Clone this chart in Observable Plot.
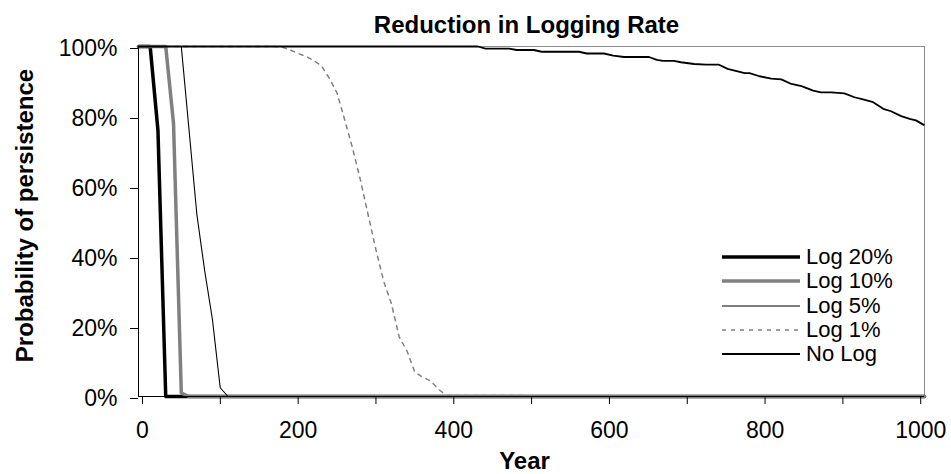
<!DOCTYPE html>
<html>
<head>
<meta charset="utf-8">
<script src="https://cdn.jsdelivr.net/npm/d3@7"></script>
<script src="https://cdn.jsdelivr.net/npm/@observablehq/plot@0.6"></script>
<style>
  html, body { margin: 0; padding: 0; background: #fff; }
  #wrap { position: relative; width: 951px; height: 474px; font-family: "Liberation Sans", Arial, sans-serif; }
  #legend { position: absolute; left: 722px; top: 245px; }
  .row { display: flex; align-items: center; height: 24.3px; font-size: 22px; color: #000; }
  .row svg { margin-right: 6px; }
</style>
</head>
<body>
<div id="wrap"><div id="legend"></div></div>
<script>
// ---- data (years, probability of persistence in %) ----
const log20Years = [0, 15, 25, 35, 1010];
const log20Vals  = [100, 100, 76, 0, 0];

const log10Years = [0, 35, 45, 55, 65, 1010];
const log10Vals  = [100, 100, 78, 1, 0, 0];

const log5Years = [0, 55, 65, 75, 85, 95, 105, 115, 1010];
const log5Vals  = [100, 100, 76, 52, 36, 22, 2.5, 0, 0];

const log1Years = [0, 175, 185, 195, 205, 215, 225, 235, 245, 255, 265, 275, 285, 295, 305, 315, 325, 335, 345, 355, 365, 375, 385, 395, 1010];
const log1Vals  = [100, 100, 99.8, 99, 98, 97.2, 96, 94.5, 91, 86.8, 79, 71, 62, 52, 42, 33, 26.5, 17, 13, 7, 5.5, 4.5, 2.2, 0.3, 0];

const noLogYears = [0, 436, 446, 476, 486, 508, 518, 566, 576, 598, 610, 624, 656, 666, 674, 688, 697, 714, 729, 746, 757, 766, 779, 785, 798, 813, 826, 839, 852, 867, 877, 890, 907, 920, 931, 944, 957, 967, 980, 991, 999, 1009];
const noLogVals  = [100, 100, 99.4, 99.4, 99, 99, 98.5, 98.5, 98, 98, 97.4, 97, 97, 96.2, 95.9, 95.9, 95.5, 95, 94.8, 94.8, 93.6, 93.1, 92.4, 92.4, 91.5, 90.8, 90.6, 89.3, 88.7, 87.4, 86.9, 86.9, 86.6, 85.5, 84.9, 84.1, 82.2, 81.5, 80.1, 79.3, 78.9, 77.6];

const seriesNames = ["Log 20%", "Log 10%", "Log 5%", "Log 1%", "No Log"];
const xTicks = [0, 100, 200, 300, 400, 500, 600, 700, 800, 900, 1000];
const yTicks = [0, 20, 40, 60, 80, 100];
const titleText = "Reduction in Logging Rate";
const xTitle = "Year";
const yTitle = "Probability of persistence";

// ---- styles ----
const styles = {
  "Log 20%": {stroke: "#000000", strokeWidth: 3.5, dash: null},
  "Log 10%": {stroke: "#808080", strokeWidth: 3.5, dash: null},
  "Log 5%":  {stroke: "#000000", strokeWidth: 1.1, dash: null},
  "Log 1%":  {stroke: "#808080", strokeWidth: 1.5, dash: "4,5"},
  "No Log":  {stroke: "#000000", strokeWidth: 1.8, dash: null}
};

const toRows = (ys, vs) => ys.map((y, i) => ({year: y, p: vs[i]}));
const seriesData = {
  "Log 20%": toRows(log20Years, log20Vals),
  "Log 10%": toRows(log10Years, log10Vals),
  "Log 5%": toRows(log5Years, log5Vals),
  "Log 1%": toRows(log1Years, log1Vals),
  "No Log": toRows(noLogYears, noLogVals)
};

const font = "'Liberation Sans', Arial, sans-serif";

const lineMarks = seriesNames.map(name => Plot.line(seriesData[name], {
  x: "year", y: "p",
  stroke: styles[name].stroke,
  strokeWidth: styles[name].strokeWidth,
  strokeDasharray: styles[name].dash || undefined,
  strokeLinejoin: "round"
}));

const chart = Plot.plot({
  width: 951,
  height: 474,
  marginTop: 46,
  marginBottom: 78,
  marginLeft: 138,
  marginRight: 27,
  style: {fontFamily: font, color: "#000", background: "#fff", overflow: "visible"},
  x: {domain: [0, 1010]},
  y: {domain: [0, 100]},
  marks: [
    Plot.frame({stroke: "#8c8c8c", strokeWidth: 1}),
    ...lineMarks,
    Plot.ruleX([0], {stroke: "#000", strokeWidth: 1}),
    Plot.ruleY([0], {stroke: "#000", strokeWidth: 1}),
    Plot.axisX({ticks: xTicks, tickFormat: d => d % 200 === 0 ? String(d) : "", tickSize: 8, tickPadding: 17, fontSize: 23, dx: 4, label: null, stroke: "#000"}),
    Plot.axisY({ticks: yTicks, tickFormat: d => d + "%", tickSize: 8, tickPadding: 13, fontSize: 23, dy: 2, label: null, stroke: "#000"}),
    Plot.text([titleText], {frameAnchor: "top", lineAnchor: "bottom", dy: -14, dx: -5, fontSize: 24, fontWeight: "bold", fill: "#000"}),
    Plot.text([xTitle], {frameAnchor: "bottom", lineAnchor: "bottom", textAnchor: "middle", dy: 72, dx: -7, fontSize: 24, fontWeight: "bold", fill: "#000"}),
    Plot.text([yTitle], {frameAnchor: "left", lineAnchor: "bottom", textAnchor: "middle", rotate: -90, dx: -106, dy: -6, fontSize: 24, fontWeight: "bold", fill: "#000"})
  ]
});
document.getElementById("wrap").prepend(chart);

// ---- legend ----
const legend = document.getElementById("legend");
for (const name of seriesNames) {
  const s = styles[name];
  const row = document.createElement("div");
  row.className = "row";
  row.innerHTML = `<svg width="78" height="10"><line x1="0" x2="78" y1="5" y2="5" stroke="${s.stroke}" stroke-width="${s.strokeWidth}" ${s.dash ? `stroke-dasharray="${s.dash}"` : ""}/></svg><span>${name}</span>`;
  legend.appendChild(row);
}
</script>
</body>
</html>
